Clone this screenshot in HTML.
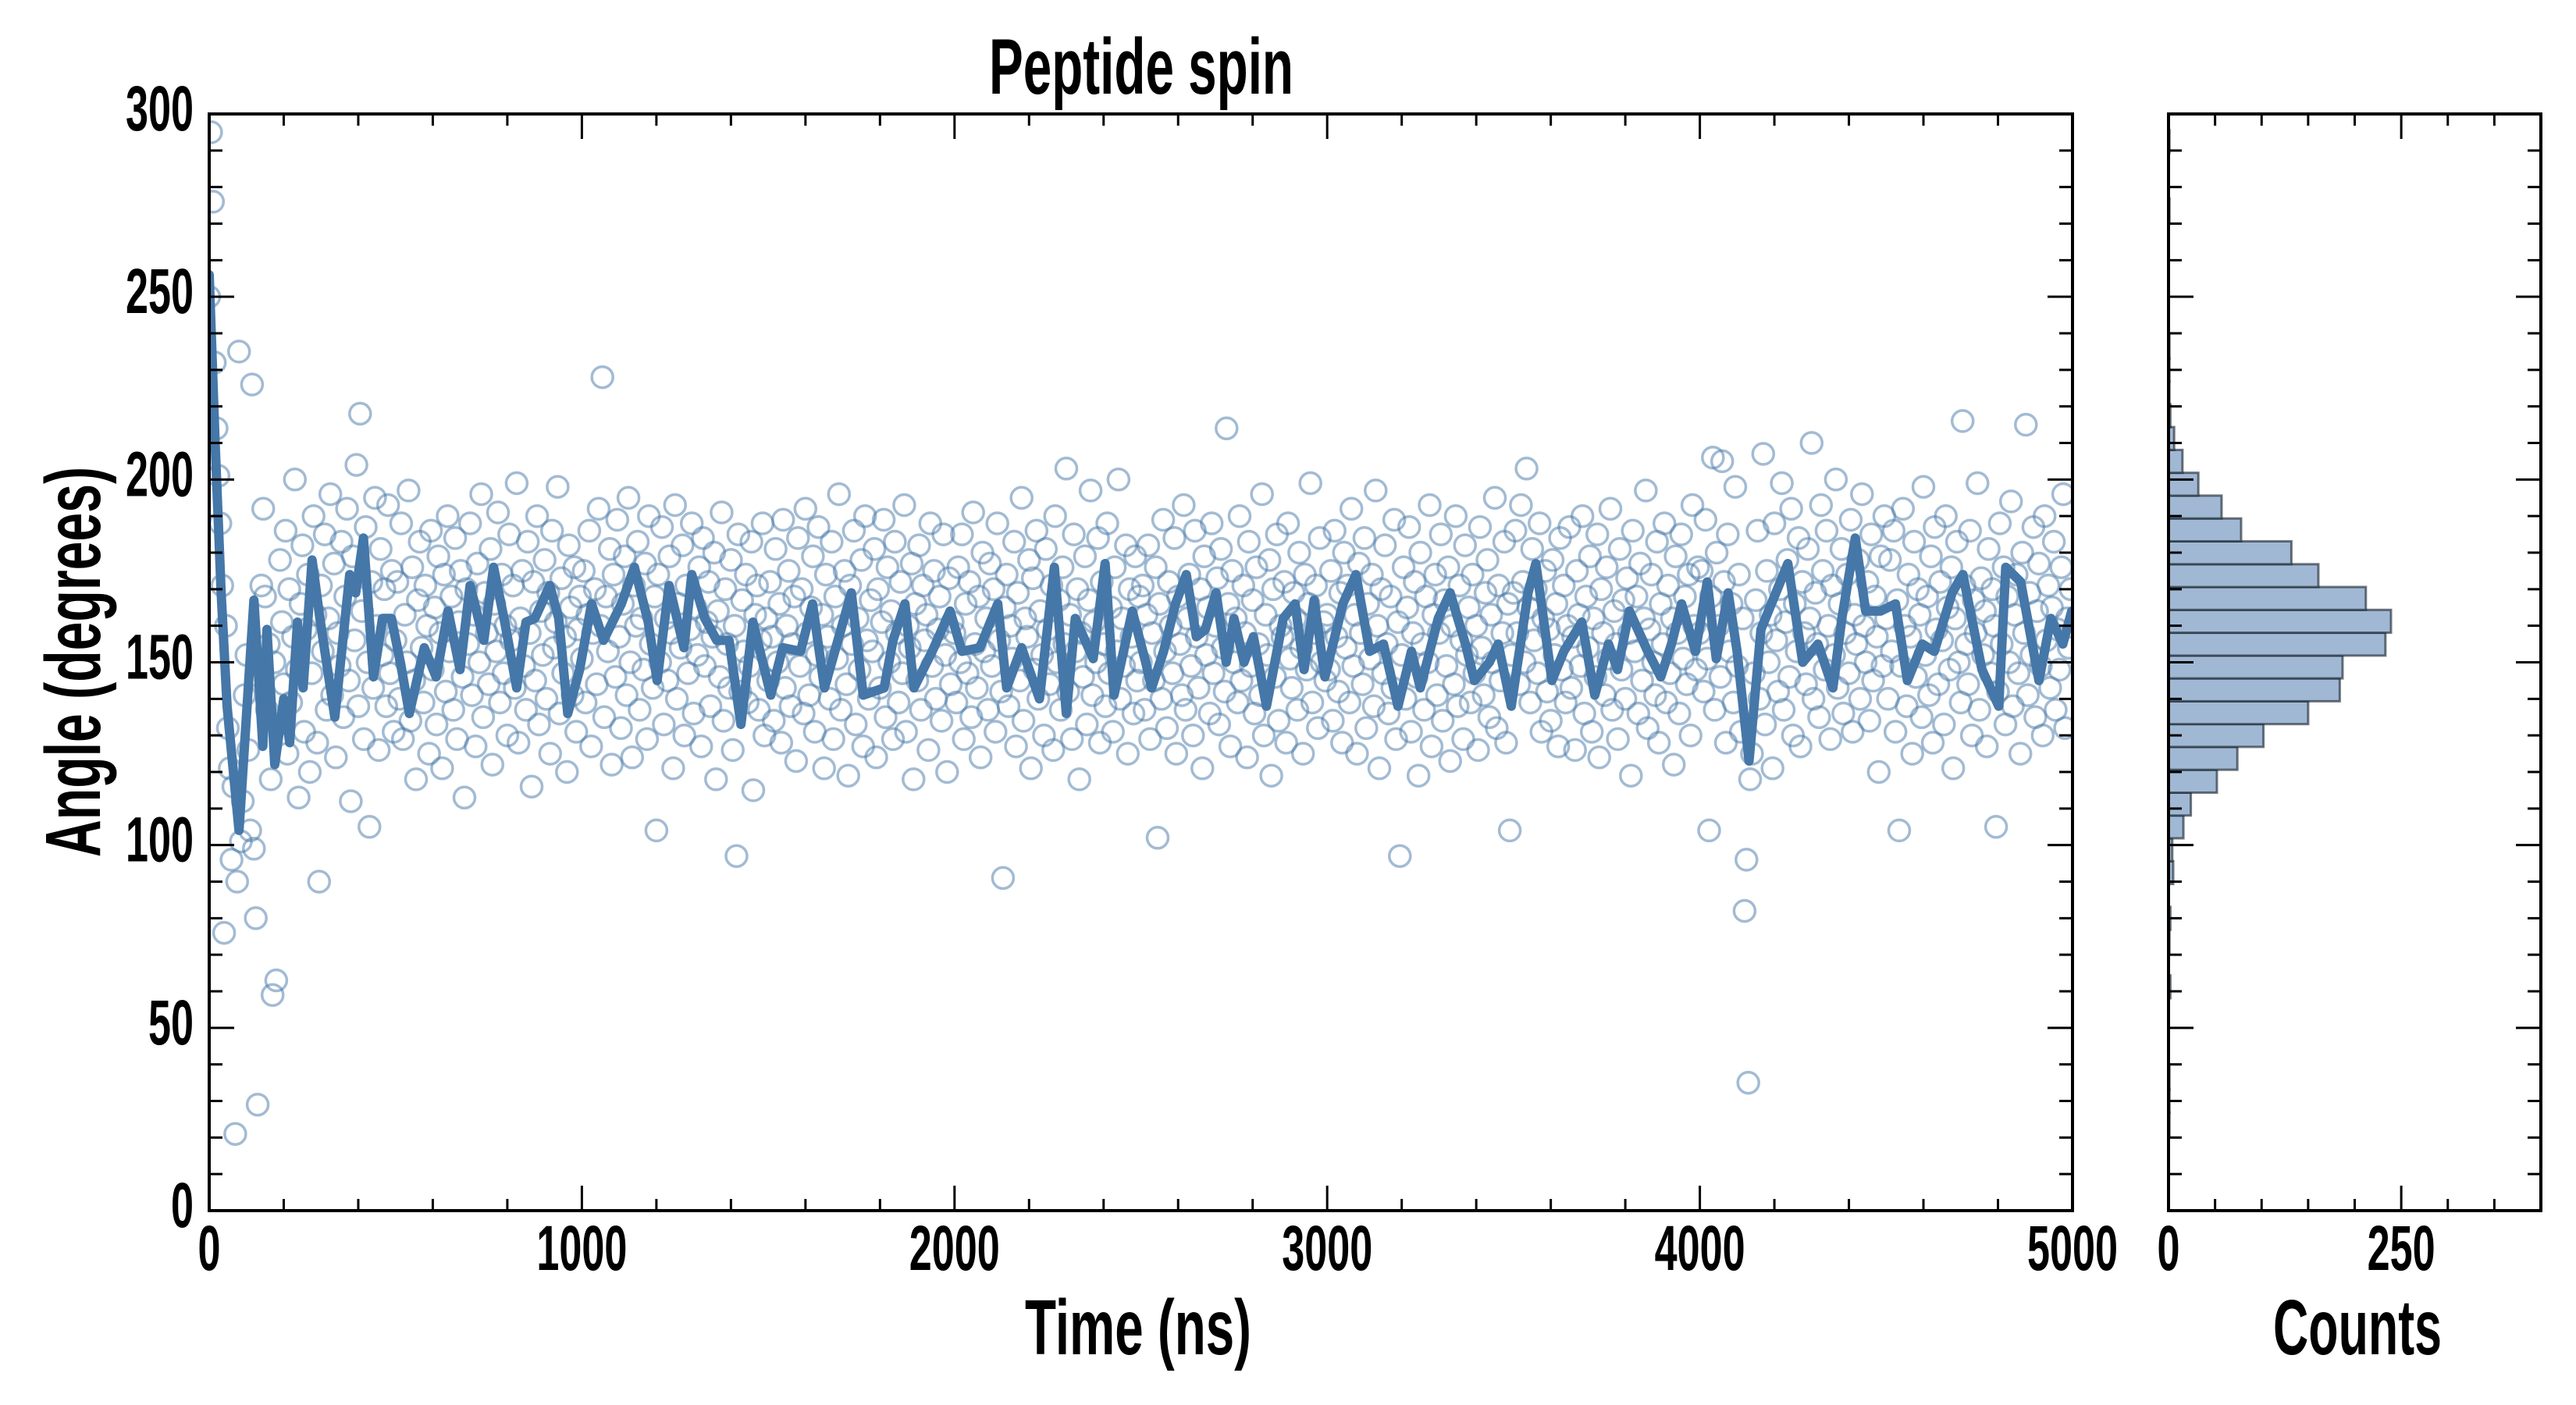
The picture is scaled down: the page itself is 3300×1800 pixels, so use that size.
<!DOCTYPE html>
<html><head><meta charset="utf-8"><title>Peptide spin</title>
<style>
html,body{margin:0;padding:0;background:#fff;}
svg{display:block;}
text{font-family:"Liberation Sans Narrow","Liberation Sans",sans-serif;font-weight:bold;fill:#000;}
</style></head>
<body>
<svg id="chart" xmlns="http://www.w3.org/2000/svg" width="3300" height="1800" viewBox="0 0 3300 1800">
<defs><clipPath id="mainClip"><rect x="268" y="146" width="2387" height="1405"/></clipPath></defs>
<rect x="0" y="0" width="3300" height="1800" fill="#fff"/>
<g id="scatterG" clip-path="url(#mainClip)"></g>
<g id="lineG" clip-path="url(#mainClip)"></g>
<g id="histG"></g>
<g id="axesG"></g>
<text x="1462" y="120" font-size="101" text-anchor="middle" textLength="390" lengthAdjust="spacingAndGlyphs">Peptide spin</text>
<text x="1458" y="1735" font-size="100" text-anchor="middle" textLength="290" lengthAdjust="spacingAndGlyphs">Time (ns)</text>
<text x="3020" y="1735" font-size="100" text-anchor="middle" textLength="216" lengthAdjust="spacingAndGlyphs">Counts</text>
<text x="0" y="0" font-size="100" text-anchor="middle" textLength="500" lengthAdjust="spacingAndGlyphs" transform="translate(128,848) rotate(-90)">Angle (degrees)</text>
</svg>
<script>
const scatterStep = 5;
const scatterValues = [
250,295,276,232,214,201,188,171,76,160,132,121,96,116,21,90,235,101,112,141,152,126,104,226,99,80,29,146,171,192,
168,137,155,118,59,150,63,133,178,161,144,186,125,170,139,157,200,148,113,166,
182,131,159,174,120,147,190,163,128,90,171,153,185,137,162,196,141,177,124,158,
149,183,135,168,192,145,112,179,156,204,138,218,164,129,187,150,105,172,143,195,
160,126,181,152,170,138,193,147,175,131,
156,172,140,188,129,163,150,197,134,176,145,118,167,183,154,139,171,160,125,186,
148,165,133,179,158,121,174,142,190,153,168,137,184,129,161,175,146,113,170,155,
188,141,163,127,177,150,196,135,169,158,144,181,122,166,153,191,139,174,147,160,
130,185,156,171,143,199,128,162,175,149,137,183,158,116,172,145,190,133,164,152,
178,140,169,125,186,154,161,198,136,173,147,157,120,182,165,141,176,131,159,168,
151,175,139,163,186,127,158,170,144,192,160,228,135,168,153,181,122,174,146,189,
157,132,166,179,141,195,150,124,171,160,183,137,162,148,177,129,190,155,143,168,
104,174,150,187,133,162,145,179,158,121,193,140,166,154,182,130,171,147,159,188,
136,165,152,176,127,184,149,161,172,138,157,180,118,164,146,191,134,170,155,143,
178,126,160,97,185,142,167,153,174,139,149,183,115,163,171,137,156,188,130,162,
145,172,157,134,181,150,166,128,189,143,160,175,138,155,168,123,184,149,170,136,
192,158,141,165,179,131,152,187,146,163,121,174,157,140,183,129,168,151,196,137,
160,175,144,119,171,155,186,133,162,148,178,127,190,156,140,167,153,181,124,170,
143,161,189,135,176,150,164,129,183,158,139,172,147,193,131,160,154,177,118,166,
145,182,137,171,156,163,126,188,149,175,140,159,168,134,185,152,120,173,144,161,
158,139,176,150,185,129,166,147,172,135,191,155,143,168,124,180,153,162,137,177,
149,170,131,188,156,142,91,165,174,138,160,151,183,127,169,145,195,134,162,157,
178,121,173,148,186,140,164,152,130,181,159,144,171,126,190,150,167,137,176,155,
203,142,163,129,185,153,170,118,158,146,179,133,167,197,141,161,150,184,128,172,
155,138,188,147,165,131,176,153,200,140,162,149,182,125,170,157,136,179,145,168,
150,171,137,163,182,129,158,145,176,102,166,140,189,153,132,172,160,147,184,125,
168,155,141,193,137,162,174,149,130,186,157,143,170,121,179,152,165,136,188,147,
160,173,133,181,154,142,214,166,127,175,150,162,139,190,145,171,158,124,183,149,
167,136,176,155,141,196,130,163,152,178,119,170,146,185,134,160,157,172,128,188,
151,143,169,162,137,180,154,125,174,148,166,199,139,158,171,132,184,150,161,145,
163,148,175,134,186,157,142,169,128,180,154,171,139,192,149,163,125,177,158,144,
184,132,166,151,174,138,197,160,121,170,147,182,155,136,168,143,189,129,161,97,
152,176,140,165,187,131,158,172,146,119,180,155,137,168,150,193,127,163,174,141,
158,185,134,167,149,176,123,160,144,190,138,171,156,129,182,152,165,139,174,147,
160,126,187,154,141,169,178,135,163,150,195,132,171,145,158,183,128,166,104,152,
169,186,158,144,193,172,150,203,165,139,181,156,170,147,188,131,162,175,142,159,
134,178,152,166,127,184,148,171,139,160,187,143,157,126,175,163,149,190,136,168,
154,179,131,162,146,185,124,170,158,141,176,151,192,137,164,155,129,181,148,167,
140,173,158,119,186,153,168,136,177,145,162,197,132,159,174,150,141,183,128,166,
155,188,139,171,147,162,122,179,158,136,185,151,168,144,174,130,193,160,148,176,
158,175,142,189,151,104,168,206,137,180,160,146,205,172,128,185,153,166,139,198,
149,174,131,162,82,96,35,118,125,147,167,186,140,158,207,133,175,150,163,121,
188,156,142,170,199,137,161,178,146,192,130,166,153,184,127,172,158,144,181,162,
210,140,169,155,135,193,175,148,186,160,129,171,152,200,143,166,181,136,158,174,
147,189,131,163,155,178,140,196,160,150,172,134,185,145,168,157,120,179,149,190,
162,140,178,153,186,131,167,104,149,192,160,138,174,157,125,183,146,170,163,135,
198,152,168,141,179,128,187,159,144,172,156,133,190,165,148,176,121,162,183,150,
139,216,171,155,144,186,130,167,158,199,137,173,152,164,127,181,147,170,160,105,
142,188,155,176,133,168,150,194,138,163,174,147,125,180,158,215,141,169,152,187,
135,164,177,149,130,190,156,171,143,165,183,137,159,148,176,196,132,162,154,170
];
const lineTimes = [0,16,32,48,80,120,144,155,176,200,216,237,252,276,297,337,377,393,414,441,465,489,513,537,577,609,641,673,700,737,763,793,825,850,874,914,938,962,994,1026,1058,1106,1141,1178,1202,1234,1274,1295,1330,1362,1395,1427,1459,1507,1539,1587,1619,1651,1723,1755,1811,1835,1867,1891,1940,1988,2020,2068,2116,2140,2180,2228,2268,2300,2324,2372,2404,2428,2477,2513,2529,2561,2593,2622,2649,2673,2702,2729,2750,2777,2802,2837,2882,2914,2938,2965,2994,3042,3077,3114,3151,3190,3226,3250,3298,3330,3371,3395,3435,3459,3494,3539,3560,3603,3635,3683,3718,3755,3779,3811,3860,3895,3924,3951,3988,4020,4044,4076,4100,4132,4164,4196,4236,4276,4317,4357,4381,4417,4445,4485,4525,4557,4597,4629,4677,4706,4757,4802,4821,4861,4910,4942,4974,4998];
const lineValues = [256,210,169,138,104,167,127,159,122,140,128,161,143,178,162,135,174,169,184,146,162,162,150,136,154,146,164,148,171,156,176,161,143,161,162,171,162,136,148,166,156,166,176,161,145,171,154,174,162,156,156,133,161,141,154,153,166,143,169,141,143,156,166,143,153,164,153,154,166,143,154,140,176,136,162,151,177,141,164,150,143,153,166,174,157,159,169,150,162,150,157,138,162,166,148,167,146,166,174,153,155,138,153,143,162,169,155,145,150,155,138,169,177,145,153,161,141,155,148,164,153,146,155,166,153,172,151,169,153,123,159,167,177,150,155,143,162,184,164,164,166,145,155,153,169,174,148,138,176,172,145,162,155,164];
const histBinStart = 20.6;
const histBinWidth = 6.25;
const histCounts = [1,1,1,0,0,0,2,0,1,2,0,5,4,16,24,52,74,102,150,184,187,233,239,212,161,132,78,57,32,15,6,2,1,1,1,0,0,0,0,0,1,0,0,1];
const xTicks = [0,1000,2000,3000,4000,5000];
const xTickLabels = ["0","1000","2000","3000","4000","5000"];
const yTicks = [0,50,100,150,200,250,300];
const yTickLabels = ["0","50","100","150","200","250","300"];
const hTicks = [0,250];
const hTickLabels = ["0","250"];

const ML=268, MR=2655, MT=146, MB=1551, HL=2778, HR=3255;
const xS = t => ML + t*(MR-ML)/5000;
const yS = v => MB - v*(MB-MT)/300;
const hS = c => HL + c*(HR-HL)/400;
const NS='http://www.w3.org/2000/svg';
function mk(tag, attrs, parent){const e=document.createElementNS(NS,tag);for(const k in attrs)e.setAttribute(k,attrs[k]);parent.appendChild(e);return e;}

const sg=document.getElementById('scatterG');
scatterValues.forEach((v,i)=>{
  const c=mk('circle',{cx:xS(i*scatterStep).toFixed(1),cy:yS(v).toFixed(1),r:13.5,fill:'none',stroke:'rgba(69,119,168,0.5)','stroke-width':3.5},sg);
  
  
});
const lg=document.getElementById('lineG');
const pl=mk('polyline',{points:lineTimes.map((t,i)=>xS(t).toFixed(1)+','+yS(lineValues[i]).toFixed(1)).join(' '),fill:'none',stroke:'#4577a8','stroke-width':12,'stroke-linejoin':'round','stroke-linecap':'round'},lg);



const hg=document.getElementById('histG');
histCounts.forEach((c,i)=>{
  if(c<=0) return;
  const lo=histBinStart+i*histBinWidth, hi=lo+histBinWidth;
  const r=mk('rect',{x:HL,y:yS(hi).toFixed(1),width:(hS(c)-HL).toFixed(1),height:(yS(lo)-yS(hi)).toFixed(1),fill:'#a0b8d4',stroke:'rgba(20,30,40,0.6)','stroke-width':3},hg);
  
  
});

const ag=document.getElementById('axesG');
function line(x1,y1,x2,y2,w){mk('line',{x1,y1,x2,y2,stroke:'#000','stroke-width':w},ag);}
for(let v=0;v<=300;v+=10){const y=yS(v);const L=(v%50===0)?32:17;line(ML,y,ML+L,y,3);line(MR,y,MR-L,y,3);line(HL,y,HL+L,y,3);line(HR,y,HR-L,y,3);}
for(let t=0;t<=5000;t+=200){const x=xS(t);const L=(t%1000===0)?32:15;line(x,MB,x,MB-L,3);line(x,MT,x,MT+L,3);}
for(let c=0;c<=400;c+=50){const x=hS(c);const L=(c%250===0)?32:15;line(x,MB,x,MB-L,3);line(x,MT,x,MT+L,3);}
const sp1=mk('rect',{x:ML,y:MT,width:MR-ML,height:MB-MT,fill:'none',stroke:'#000','stroke-width':4},ag);


const sp2=mk('rect',{x:HL,y:MT,width:HR-HL,height:MB-MT,fill:'none',stroke:'#000','stroke-width':4},ag);


yTicks.forEach((v,i)=>{
  const s=yTickLabels[i];
  const t=mk('text',{x:248,y:(yS(v)+21).toFixed(1),'font-size':82,'text-anchor':'end',textLength:s.length*29,lengthAdjust:'spacingAndGlyphs'},ag);
  t.textContent=s;
  
  
});
xTicks.forEach((v,i)=>{
  const s=xTickLabels[i];
  const t=mk('text',{x:xS(v).toFixed(1),y:1627,'font-size':82,'text-anchor':'middle',textLength:s.length*29,lengthAdjust:'spacingAndGlyphs'},ag);
  t.textContent=s;
  
  
});
hTicks.forEach((v,i)=>{
  const s=hTickLabels[i];
  const t=mk('text',{x:hS(v).toFixed(1),y:1627,'font-size':82,'text-anchor':'middle',textLength:s.length*29,lengthAdjust:'spacingAndGlyphs'},ag);
  t.textContent=s;
  
  
});
</script>
</body></html>
